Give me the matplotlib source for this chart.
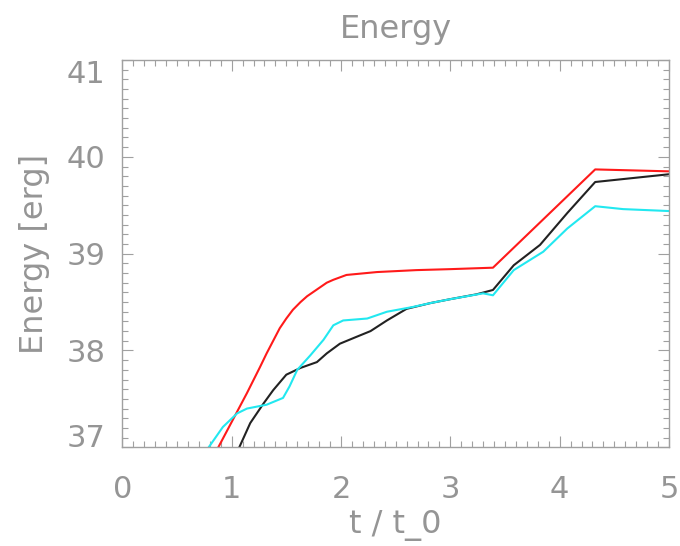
import matplotlib
matplotlib.use("Agg")
import matplotlib.pyplot as plt
from matplotlib.ticker import MultipleLocator

# ---- data ----
red_t = [0.878, 1.14, 1.26, 1.32, 1.44, 1.50, 1.56, 1.63, 1.69, 1.78, 1.87, 1.93, 2.05, 2.33, 2.69, 3.0,
         3.39, 4.325, 5.0]
red_e = [37.0, 37.56, 37.83, 37.97, 38.23, 38.33, 38.42, 38.50, 38.56, 38.63, 38.70, 38.73, 38.78, 38.81,
         38.83, 38.84, 38.855, 39.87, 39.85]

black_t = [1.07, 1.17, 1.23, 1.29, 1.38, 1.50, 1.63, 1.78, 1.87, 1.99, 2.14, 2.27, 2.42, 2.60, 2.82, 3.0, 3.24,
           3.39, 3.58, 3.82, 4.07, 4.325, 5.0]
black_e = [37.0, 37.25, 37.35, 37.45, 37.59, 37.75, 37.82, 37.88, 37.97, 38.07, 38.14, 38.20, 38.31, 38.43, 38.49,
           38.53, 38.58, 38.625, 38.88, 39.09, 39.42, 39.74, 39.82]

cyan_t = [0.79, 0.92, 1.05, 1.14, 1.32, 1.47, 1.53, 1.60, 1.72, 1.84, 1.93, 2.02, 2.24, 2.42, 2.66, 2.82, 3.0,
          3.30, 3.39, 3.58, 3.85, 4.07, 4.325, 4.58, 5.0]
cyan_e = [37.0, 37.21, 37.35, 37.40, 37.44, 37.51, 37.63, 37.80, 37.95, 38.11, 38.26, 38.31, 38.33, 38.40, 38.45,
          38.49, 38.53, 38.59, 38.57, 38.83, 39.02, 39.26, 39.49, 39.46, 39.44]

x_ticks = [0, 1, 2, 3, 4, 5]
y_ticks = [37, 38, 39, 40, 41]
title = "Energy"
xlabel = "t / t_0"
ylabel = "Energy [erg]"

# ---- style ----
TXT = "#959595"
AX = "#a0a0a0"
FS = 22
plt.rcParams['font.family'] = ['DejaVu Sans']

fig = plt.figure(figsize=(6.8, 5.46), dpi=100)
ax = fig.add_axes([122.3 / 680, 1 - 447.3 / 546, (669 - 122.3) / 680, (447.3 - 60) / 546])

ax.plot(red_t, red_e, color="#ff1a1a", lw=1.5)
ax.plot(black_t, black_e, color="#222222", lw=1.5)
ax.plot(cyan_t, cyan_e, color="#22e8f0", lw=1.5)

ax.set_xlim(0, 5)
ax.set_ylim(37, 41)
ax.set_xticks(x_ticks)
ax.set_yticks(y_ticks)
ax.set_xticklabels([str(v) for v in x_ticks])
ax.set_yticklabels([str(v) for v in y_ticks])
ax.xaxis.set_minor_locator(MultipleLocator(0.1))
ax.yaxis.set_minor_locator(MultipleLocator(0.1))

for s in ax.spines.values():
    s.set_color(AX)
    s.set_linewidth(1.0)

ax.tick_params(which='both', direction='in', top=True, right=True, color=AX, width=0.8)
ax.tick_params(which='major', length=8)
ax.tick_params(which='minor', length=4.2)
ax.tick_params(axis='x', which='major', pad=20, labelsize=FS, labelcolor=TXT)
ax.tick_params(axis='y', which='major', pad=12, labelsize=FS, labelcolor=TXT)

ylabs = ax.get_yticklabels()
ylabs[-1].set_verticalalignment('top')
ylabs[0].set_verticalalignment('baseline')

ax.set_title(title, fontsize=FS + 1, color=TXT, pad=16)
ax.set_xlabel(xlabel, fontsize=FS + 1, color=TXT, labelpad=4)
ax.set_ylabel(ylabel, fontsize=FS + 1, color=TXT, labelpad=12)

fig.savefig("out.png", dpi=100)
